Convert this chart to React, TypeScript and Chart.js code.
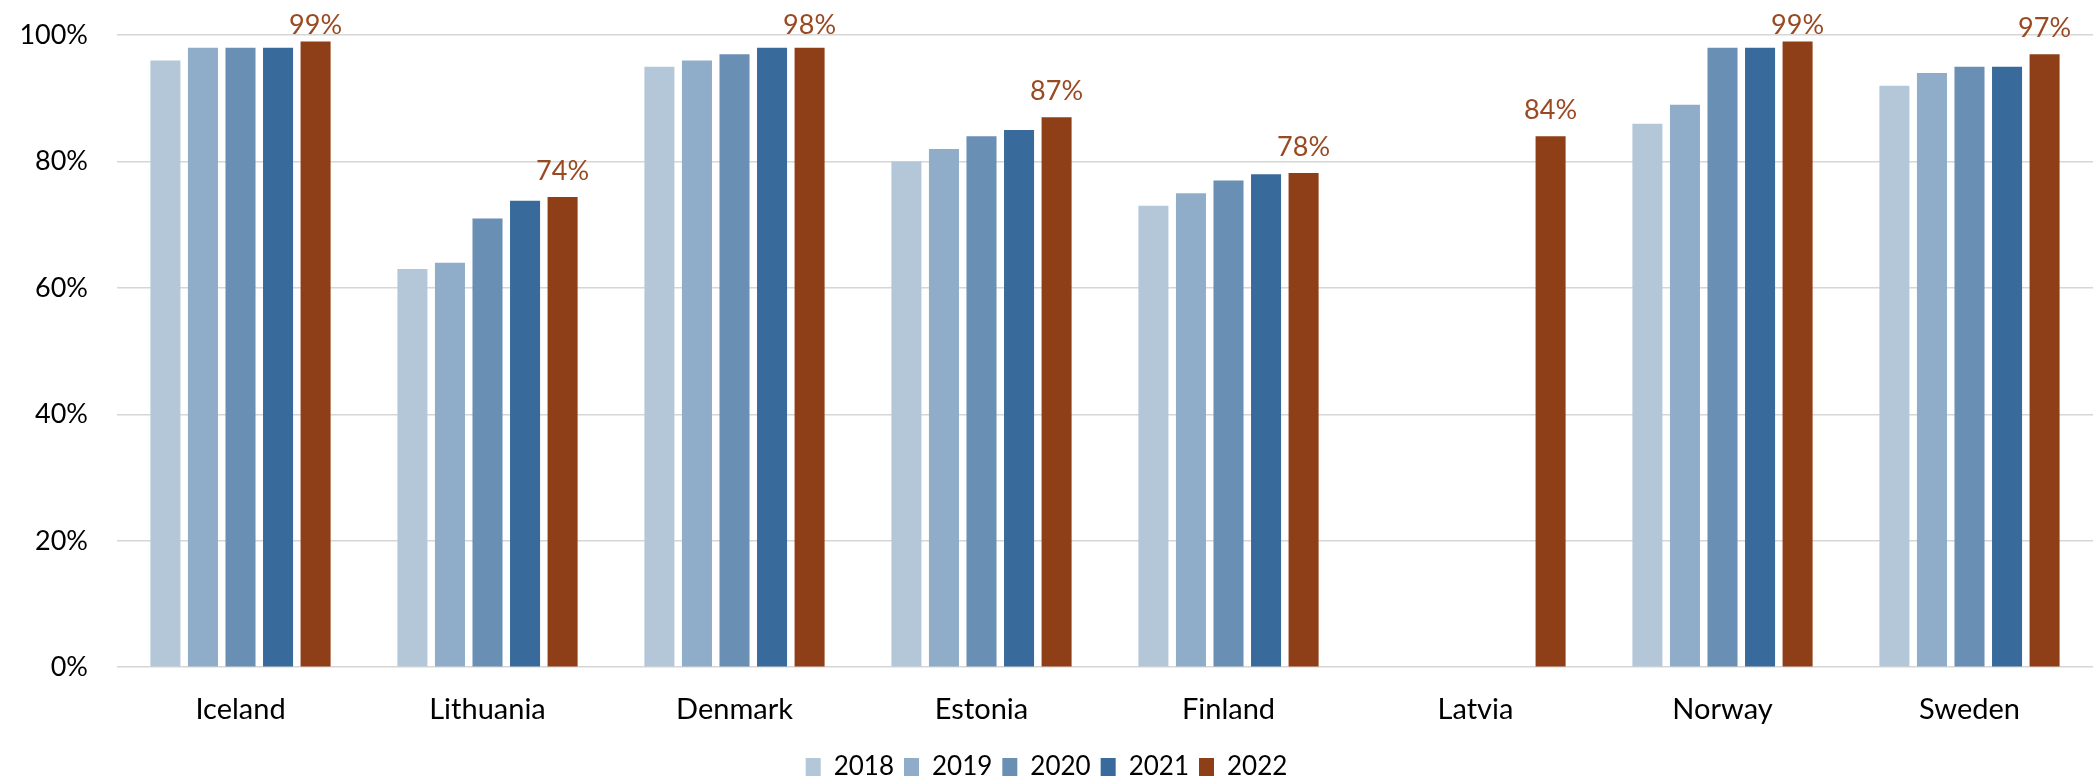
import React, { useEffect, useRef } from "react";
import { Chart, registerables } from "chart.js";

Chart.register(...registerables);

const countries = ["Iceland", "Lithuania", "Denmark", "Estonia", "Finland", "Latvia", "Norway", "Sweden"];
const years = ["2018", "2019", "2020", "2021", "2022"];
const v2018 = [96, 63, 95, 80, 73, null, 86, 92];
const v2019 = [98, 64, 96, 82, 75, null, 89, 94];
const v2020 = [98, 71, 97, 84, 77, null, 98, 95];
const v2021 = [98, 73.8, 98, 85, 78, null, 98, 95];
const v2022 = [99, 74.4, 98, 87, 78.2, 84, 99, 97];
const yTicks = [0, 20, 40, 60, 80, 100];

const colors = ["#b4c7d9", "#8fadc9", "#6a8fb4", "#386b9b", "#8f3f17"];
const labelColor = "#9a4a22";
const FONT = "Lato, 'Open Sans', sans-serif";

const labelPlugin = {
  id: "lastLabels",
  afterDatasetsDraw(chart: any) {
    const ctx = chart.ctx;
    const idx = chart.data.datasets.length - 1;
    const meta = chart.getDatasetMeta(idx);
    const data = chart.data.datasets[idx].data;
    ctx.save();
    ctx.font = `27px ${FONT}`;
    ctx.fillStyle = labelColor;
    ctx.textAlign = "center";
    ctx.textBaseline = "alphabetic";
    meta.data.forEach((bar: any, i: number) => {
      const v = data[i];
      if (v == null) return;
      const y = Math.max(bar.y - 17, chart.chartArea.top - 1);
      ctx.fillText(Math.round(v) + "%", bar.x, y);
    });
    ctx.restore();
  },
};

export default function App() {
  const ref = useRef<HTMLCanvasElement>(null);
  useEffect(() => {
    document.body.style.margin = "0";
    const series = [v2018, v2019, v2020, v2021, v2022];
    const chart = new Chart(ref.current!, {
      type: "bar",
      data: {
        labels: countries,
        datasets: years.map((y, i) => ({
          label: y,
          data: series[i] as any,
          backgroundColor: colors[i],
          borderWidth: 0,
          categoryPercentage: 0.76,
          barPercentage: 0.8,
        })),
      },
      options: {
        responsive: false,
        animation: false,
        devicePixelRatio: 1,
        layout: { padding: { top: 0, left: 0, right: 0, bottom: -8 } },
        plugins: {
          legend: {
            position: "bottom",
            labels: {
              font: { family: FONT, size: 26 },
              color: "#000",
              boxWidth: 15,
              boxHeight: 18,
              padding: 10,
            },
          },
          tooltip: { enabled: false },
        },
        scales: {
          x: {
            grid: { display: false },
            border: { display: false },
            ticks: { font: { family: FONT, size: 29 }, color: "#000", padding: 17 },
          },
          y: {
            min: 0,
            max: 100,
            afterBuildTicks: (axis: any) => {
              axis.ticks = yTicks.map((v) => ({ value: v }));
            },
            afterFit: (axis: any) => {
              axis.width = 117;
            },
            grid: {
              color: "#d6d6d6",
              lineWidth: 1.5,
              drawTicks: true,
              tickLength: 10,
              tickColor: "rgba(0,0,0,0)",
            },
            border: { display: false },
            ticks: {
              font: { family: FONT, size: 27 },
              color: "#000",
              padding: 19,
              callback: (v: any) => v + "%",
            },
          },
        },
      },
      plugins: [labelPlugin],
    });
    return () => chart.destroy();
  }, []);
  return <canvas ref={ref} width={2093} height={782} style={{ display: "block" }} />;
}
